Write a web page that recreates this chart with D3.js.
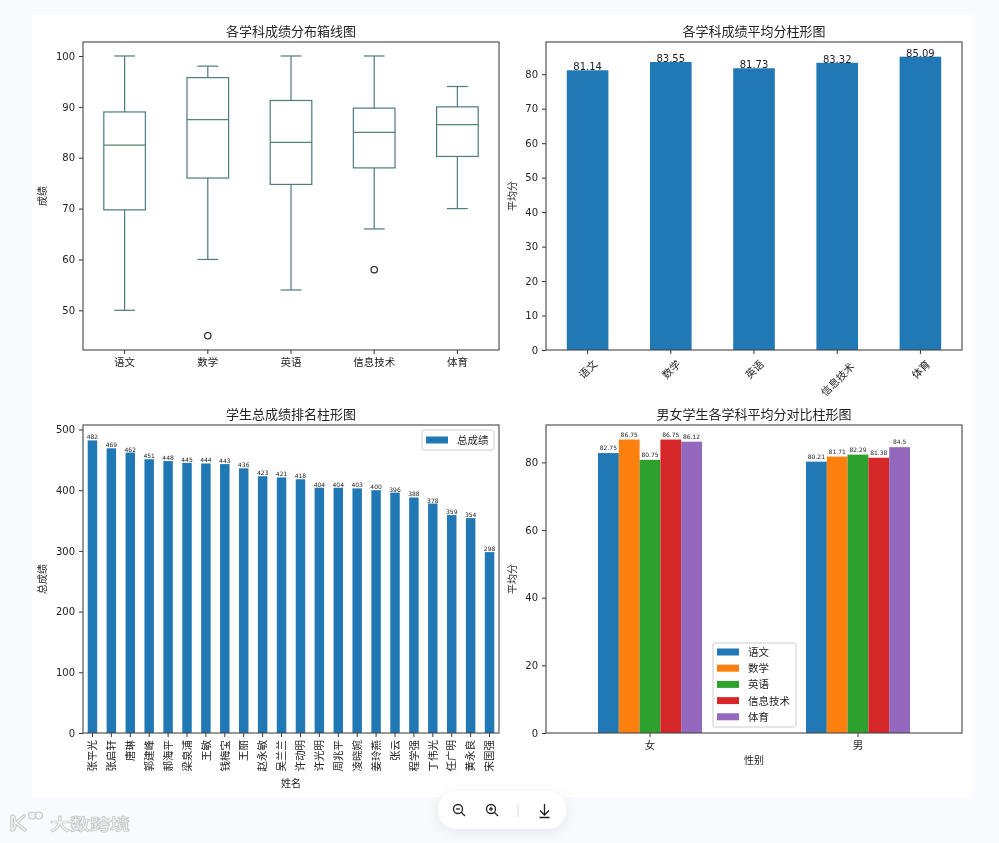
<!DOCTYPE html>
<html>
<head>
<meta charset="utf-8">
<script src="https://cdn.jsdelivr.net/npm/d3@7"></script>
<style>
  html, body { margin: 0; padding: 0; background: #f8fafd; overflow: hidden; }
  svg { display: block; }
  text { font-family: "Noto Sans CJK SC", "DejaVu Sans", sans-serif; fill: #222; }
  .num { font-family: "DejaVu Sans", sans-serif; }
</style>
</head>
<body>
<svg id="chart" width="999" height="843"></svg>
<script>
const subjects = ['语文', '数学', '英语', '信息技术', '体育'];
const whiskerLow = [50, 60, 54, 66, 70];
const quartile1 = [69.75, 76, 74.75, 78, 80.25];
const medians = [82.5, 87.5, 83, 85, 86.5];
const quartile3 = [89, 95.75, 91.25, 89.75, 90];
const whiskerHigh = [100, 98, 100, 100, 94];
const outliers = [null, 45, null, 58, null];

const subjectMeans = [81.14, 83.55, 81.73, 83.32, 85.09];

const students = ['张平光', '张启轩', '唐琳', '郭建峰', '郝海平', '梁泉浦', '王敏', '钱梅宝', '王丽', '赵永敏', '吴兰兰',
  '许动明', '许光明', '周兆平', '凌晓婉', '姜玲燕', '张云', '程学强', '丁伟光', '任广明', '黄永良', '宋国强'];
const totals = [482, 469, 462, 451, 448, 445, 444, 443, 436, 423, 421, 418, 404, 404, 403, 400, 396, 388, 378, 359, 354, 298];

const genders = ['女', '男'];
const femaleMeans = [82.75, 86.75, 80.75, 86.75, 86.12];
const maleMeans = [80.21, 81.71, 82.29, 81.38, 84.5];

const colors = ['#1f77b4', '#ff7f0e', '#2ca02c', '#d62728', '#9467bd'];
const boxColor = '#527c82';
const medianColor = '#55876a';

const svg = d3.select('#chart');

// white page the figure sits on
svg.append('rect').attr('x', 32).attr('y', 15).attr('width', 940).attr('height', 782).attr('fill', '#fff');

// everything in here is drawn grey-antialiased, no colour fringes on small text
const root = svg.append('g').attr('opacity', 0.995);

// sets up one subplot, returns its group and scales
function panel(left, top, title, cats, yMax, yMin, yTicks, padIn, padOut) {
  const width = 416, height = 308;
  const g = root.append('g').attr('transform', `translate(${left},${top})`);
  const x = d3.scaleBand().domain(cats).range([0, width]).paddingInner(padIn).paddingOuter(padOut);
  const y = d3.scaleLinear().domain([yMin, yMax]).range([height, 0]);

  g.append('text').attr('x', width / 2).attr('y', -6).attr('text-anchor', 'middle')
    .attr('font-size', 13).text(title);

  const yAxis = g.append('g').call(d3.axisLeft(y).tickValues(yTicks).tickSize(4).tickPadding(4));
  yAxis.selectAll('text').attr('class', 'num').attr('font-size', 10);
  const xAxis = g.append('g').attr('transform', `translate(0,${height})`)
    .call(d3.axisBottom(x).tickSize(4).tickPadding(5));
  xAxis.selectAll('text').attr('font-size', 10.5);
  g.selectAll('.domain').remove();
  g.selectAll('.tick line').attr('stroke', '#333');

  return { g, x, y, xAxis, width, height };
}

// frame goes on after the marks like matplotlib spines
function frame(p) {
  p.g.append('rect').attr('width', p.width).attr('height', p.height)
    .attr('fill', 'none').attr('stroke', '#444').attr('stroke-width', 1.1);
}

function yLabel(p, text, dx) {
  p.g.append('text').attr('transform', `translate(${dx},${p.height / 2}) rotate(-90)`)
    .attr('text-anchor', 'middle').attr('font-size', 10).text(text);
}

// box plot
const p1 = panel(83, 42, '各学科成绩分布箱线图', subjects, 102.75, 42.2, d3.range(50, 101, 10), 0.5, 0.25);
yLabel(p1, '成绩', -37);
subjects.forEach((s, i) => {
  const bx = p1.x(s), bw = p1.x.bandwidth(), cx = bx + bw / 2;
  const b = p1.g.append('g').attr('fill', 'none').attr('stroke', boxColor).attr('stroke-width', 1.25);
  b.append('line').attr('x1', cx).attr('x2', cx).attr('y1', p1.y(whiskerLow[i])).attr('y2', p1.y(quartile1[i]));
  b.append('line').attr('x1', cx).attr('x2', cx).attr('y1', p1.y(quartile3[i])).attr('y2', p1.y(whiskerHigh[i]));
  [whiskerLow[i], whiskerHigh[i]].forEach(v => {
    b.append('line').attr('x1', cx - bw / 4).attr('x2', cx + bw / 4).attr('y1', p1.y(v)).attr('y2', p1.y(v));
  });
  b.append('rect').attr('x', bx).attr('width', bw)
    .attr('y', p1.y(quartile3[i])).attr('height', p1.y(quartile1[i]) - p1.y(quartile3[i]));
  b.append('line').attr('x1', bx).attr('x2', bx + bw).attr('y1', p1.y(medians[i])).attr('y2', p1.y(medians[i]))
    .attr('stroke', medianColor);
  if (outliers[i] !== null) {
    p1.g.append('circle').attr('cx', cx).attr('cy', p1.y(outliers[i])).attr('r', 3.2)
      .attr('fill', 'none').attr('stroke', '#111').attr('stroke-width', 1.1);
  }
});
frame(p1);

// subject means
const p2 = panel(546, 42, '各学科成绩平均分柱形图', subjects, 89.35, 0, d3.range(0, 81, 10), 0.5, 0.25);
yLabel(p2, '平均分', -30);
p2.g.selectAll('.bar').data(subjectMeans).join('rect')
  .attr('x', (d, i) => p2.x(subjects[i])).attr('width', p2.x.bandwidth())
  .attr('y', d => p2.y(d)).attr('height', d => p2.height - p2.y(d)).attr('fill', colors[0]);
p2.g.selectAll('.lab').data(subjectMeans).join('text').attr('class', 'num')
  .attr('x', (d, i) => p2.x(subjects[i]) + p2.x.bandwidth() / 2).attr('y', d => p2.y(d))
  .attr('text-anchor', 'middle').attr('font-size', 10).text(d => d);
// rotated about their centre, longer labels hang lower
p2.xAxis.selectAll('text').attr('text-anchor', 'middle').attr('dy', 0).attr('y', 0)
  .attr('dominant-baseline', 'central')
  .attr('transform', d => `translate(0,${9 + 5 * d.length}) rotate(-45)`);
frame(p2);

// student totals
const p3 = panel(83, 425, '学生总成绩排名柱形图', students, 507.4, 0, d3.range(0, 501, 100), 0.5, 0.25);
yLabel(p3, '总成绩', -37);
p3.g.selectAll('.bar').data(totals).join('rect')
  .attr('x', (d, i) => p3.x(students[i])).attr('width', p3.x.bandwidth())
  .attr('y', d => p3.y(d)).attr('height', d => p3.height - p3.y(d)).attr('fill', colors[0]);
p3.g.selectAll('.lab').data(totals).join('text').attr('class', 'num')
  .attr('x', (d, i) => p3.x(students[i]) + p3.x.bandwidth() / 2).attr('y', d => p3.y(d) - 1)
  .attr('text-anchor', 'middle').attr('font-size', 6).text(d => d);
p3.xAxis.selectAll('text').attr('text-anchor', 'end').attr('dy', '0.35em').attr('y', 0)
  .attr('transform', 'translate(0,7) rotate(-90)');
p3.g.append('text').attr('x', p3.width / 2).attr('y', p3.height + 54).attr('text-anchor', 'middle')
  .attr('font-size', 10).text('姓名');
frame(p3);
const leg3 = p3.g.append('g').attr('transform', 'translate(339,5)');
leg3.append('rect').attr('width', 72).attr('height', 20).attr('rx', 2)
  .attr('fill', '#fff').attr('fill-opacity', 0.8).attr('stroke', '#ccc');
leg3.append('rect').attr('x', 4).attr('y', 6.5).attr('width', 22).attr('height', 7).attr('fill', colors[0]);
leg3.append('text').attr('x', 35).attr('y', 14).attr('font-size', 10.5).text('总成绩');

// gender comparison
const p4 = panel(546, 425, '男女学生各学科平均分对比柱形图', genders, 91.05, 0, d3.range(0, 81, 20), 0.5, 0.25);
yLabel(p4, '平均分', -30);
const sub = d3.scaleBand().domain(subjects).range([0, p4.x.bandwidth()]);
[femaleMeans, maleMeans].forEach((vals, gi) => {
  const gx = p4.x(genders[gi]);
  p4.g.append('g').selectAll('rect').data(vals).join('rect')
    .attr('x', (d, i) => gx + sub(subjects[i])).attr('width', sub.bandwidth())
    .attr('y', d => p4.y(d)).attr('height', d => p4.height - p4.y(d))
    .attr('fill', (d, i) => colors[i]);
  p4.g.append('g').selectAll('text').data(vals).join('text').attr('class', 'num')
    .attr('x', (d, i) => gx + sub(subjects[i]) + sub.bandwidth() / 2).attr('y', d => p4.y(d) - 3)
    .attr('text-anchor', 'middle').attr('font-size', 6).text(d => d);
});
p4.g.append('text').attr('x', p4.width / 2).attr('y', p4.height + 31).attr('text-anchor', 'middle')
  .attr('font-size', 10).text('性别');
frame(p4);
const leg4 = p4.g.append('g').attr('transform', 'translate(167,218)');
leg4.append('rect').attr('width', 83).attr('height', 84).attr('rx', 2)
  .attr('fill', '#fff').attr('fill-opacity', 0.8).attr('stroke', '#ccc');
subjects.forEach((s, i) => {
  leg4.append('rect').attr('x', 4).attr('y', 5.5 + i * 16.2).attr('width', 22).attr('height', 7).attr('fill', colors[i]);
  leg4.append('text').attr('x', 35).attr('y', 13 + i * 16.2).attr('font-size', 10.5).text(s);
});

// viewer toolbar under the figure
const defs = svg.append('defs');
defs.append('filter').attr('id', 'soft').attr('x', '-30%').attr('y', '-50%').attr('width', '160%').attr('height', '220%')
  .append('feDropShadow').attr('dx', 0).attr('dy', 3).attr('stdDeviation', 7)
  .attr('flood-color', '#000').attr('flood-opacity', 0.08);
svg.append('rect').attr('x', 438).attr('y', 791).attr('width', 128).attr('height', 38).attr('rx', 19)
  .attr('fill', '#fff').attr('filter', 'url(#soft)');
const tools = svg.append('g').attr('fill', 'none').attr('stroke', '#222').attr('stroke-width', 1.3);
[459, 492].forEach((cx, i) => {
  tools.append('circle').attr('cx', cx - 1).attr('cy', 809).attr('r', 4.5);
  tools.append('line').attr('x1', cx + 2.5).attr('y1', 812.5).attr('x2', cx + 6).attr('y2', 816);
  tools.append('line').attr('x1', cx - 3).attr('y1', 809).attr('x2', cx + 1).attr('y2', 809);
  if (i === 1) tools.append('line').attr('x1', cx - 1).attr('y1', 807).attr('x2', cx - 1).attr('y2', 811);
});
svg.append('line').attr('x1', 518).attr('x2', 518).attr('y1', 804).attr('y2', 817).attr('stroke', '#ddd');
tools.append('path').attr('d', 'M544.5 804V815M540 810.5L544.5 815L549 810.5M539.5 817.5H549.5');

// watermark: pale letters with a grey outline
const logoPath = 'M12 816V830M12 816C16 816 16 830 12 830M24 816L16 823L25 830';
const mark = svg.append('g').attr('fill', 'none').attr('stroke-linecap', 'round');
mark.append('path').attr('d', logoPath).attr('stroke', '#c6c8ca').attr('stroke-width', 3.6);
mark.append('path').attr('d', logoPath).attr('stroke', '#f4f5f7').attr('stroke-width', 1.4);
[32, 39].forEach(cx => {
  mark.append('circle').attr('cx', cx).attr('cy', 815.5).attr('r', 3.5)
    .attr('fill', '#f4f5f7').attr('stroke', '#c6c8ca').attr('stroke-width', 1.2);
});
svg.append('text').attr('transform', 'translate(50,830) scale(1,0.8)').attr('font-size', 20).attr('font-weight', 700)
  .style('fill', '#f2f3f5').style('stroke', '#c4c6c8').style('stroke-width', 0.9).text('大数跨境');
</script>
</body>
</html>
